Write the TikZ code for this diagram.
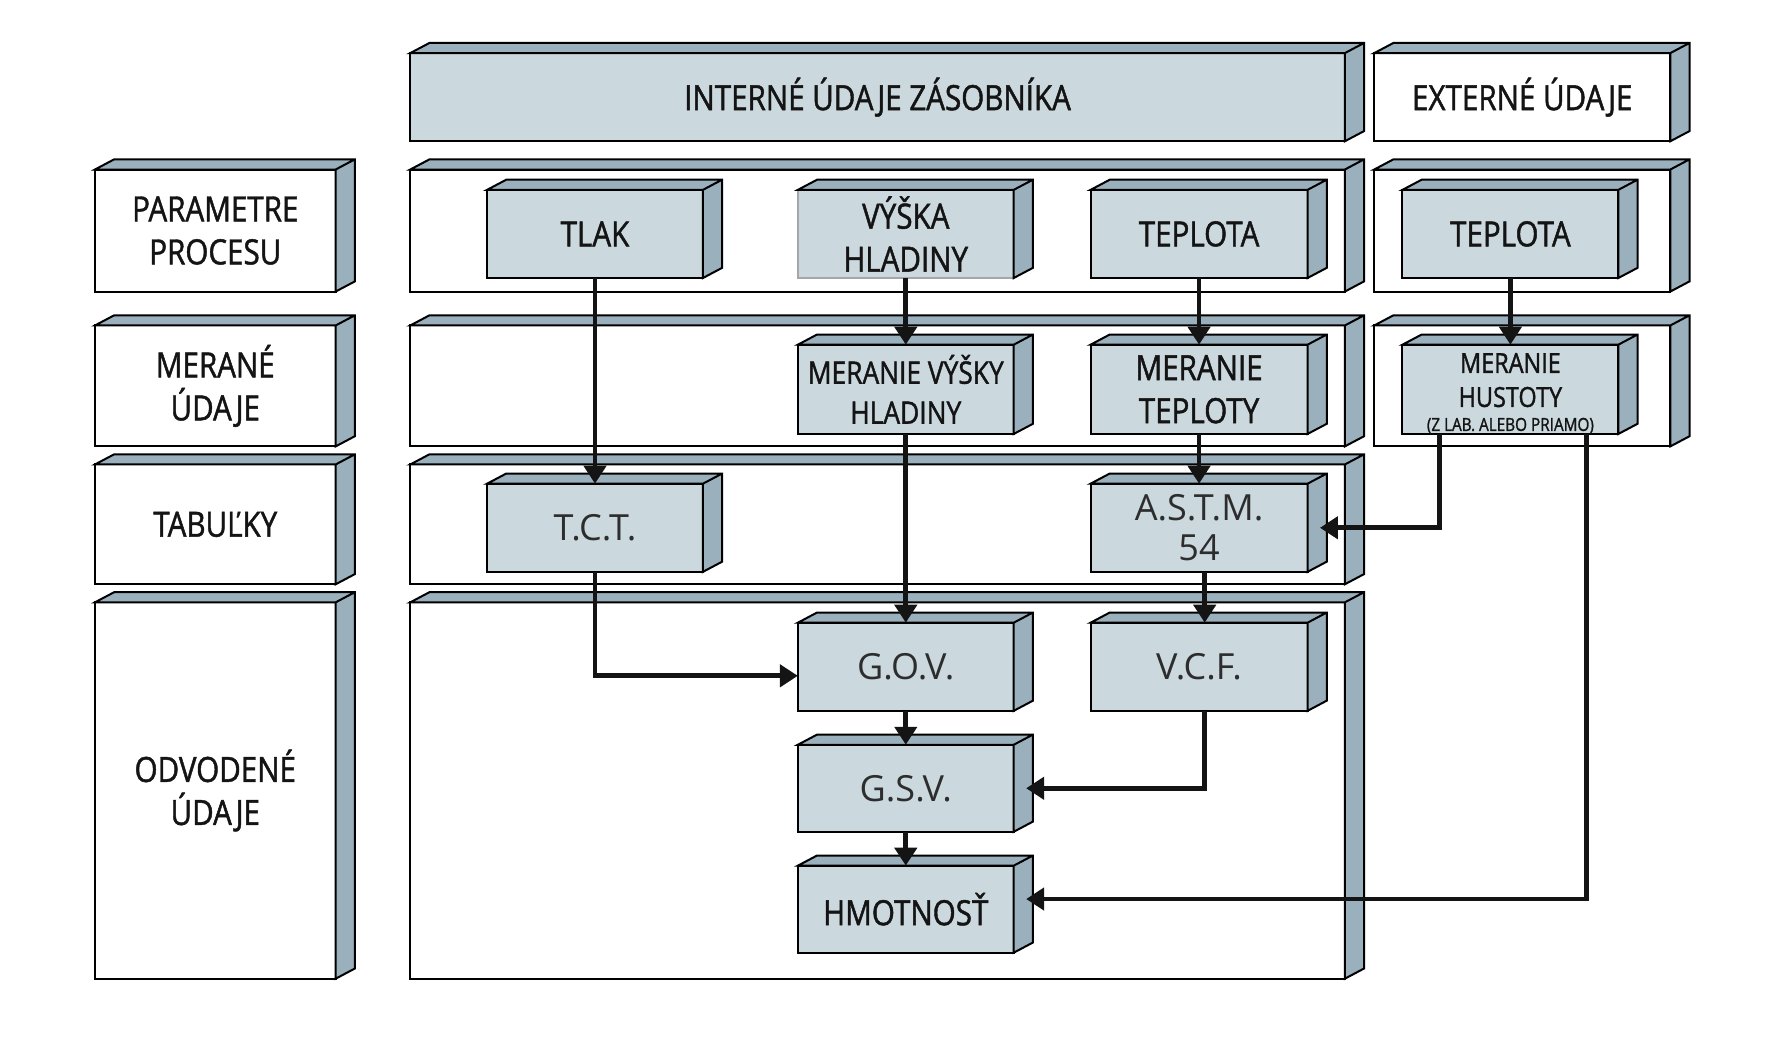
\documentclass[tikz,border=0pt]{standalone}
\usepackage{fontspec}
\setmainfont{Open Sans}
\newfontfamily\condfont[FakeStretch=0.85,FakeBold=1.3]{Open Sans}
\usetikzlibrary{calc,arrows.meta}
\definecolor{boxfill}{RGB}{203,217,223}
\definecolor{facefill}{RGB}{155,176,189}
\definecolor{txtdark}{RGB}{20,20,20}
\definecolor{txtlight}{RGB}{45,45,45}
\newcommand\mkbox[7]{\node[#6, minimum width={(#4-#2)*0.565pt}, minimum height={(#5-#3)*0.565pt}] (#1) at (#2,#3) {#7};}
\newcommand\mkfaces[1]{\draw[faceline] (#1.north west) -- ++(17,-9) -- ($(#1.north east)+(17,-9)$) -- ($(#1.south east)+(17,-9)$) -- (#1.south east) -- (#1.north east) -- cycle (#1.north east) -- ++(17,-9);}
\begin{document}
\begin{tikzpicture}[x=0.565pt,y=-0.565pt,
  basebox/.style={draw=black, line width=1pt, inner sep=0pt, outer sep=0pt, anchor=north west, align=center, text=txtdark, font=\condfont\fontsize{17.4}{21.5}\selectfont},
  plainbox/.style={basebox, fill=white},
  graybox/.style={basebox, fill=boxfill},
  lightlbl/.style={font=\fontsize{18}{20}\selectfont, text=txtlight},
  faceline/.style={draw=black, line width=1pt, fill=facefill},
  arr/.style={draw=txtdark, line width=2.4pt, -{Triangle[length=9pt,width=11pt]}}
]
\useasboundingbox (0,0) rectangle (1568,919);
% containers
\mkbox{lab1}{84}{150}{297}{258}{plainbox}{PARAMETRE\\PROCESU}
\mkbox{lab2}{84}{288}{297}{395}{plainbox}{MERANÉ\\ÚDAJE}
\mkbox{lab3}{84}{411}{297}{517}{plainbox}{TABUĽKY}
\mkbox{lab4}{84}{533}{297}{866}{plainbox}{ODVODENÉ\\ÚDAJE}
\mkbox{hint}{363}{47}{1190}{125}{graybox}{INTERNÉ ÚDAJE ZÁSOBNÍKA}
\mkbox{hext}{1216}{47}{1478}{125}{plainbox}{EXTERNÉ ÚDAJE}
\mkbox{row1}{363}{150}{1190}{258}{plainbox}{}
\mkbox{ext1}{1216}{150}{1478}{258}{plainbox}{}
\mkbox{row2}{363}{288}{1190}{395}{plainbox}{}
\mkbox{ext2}{1216}{288}{1478}{395}{plainbox}{}
\mkbox{row3}{363}{411}{1190}{517}{plainbox}{}
\mkbox{row4}{363}{533}{1190}{866}{plainbox}{}
\foreach \n in {lab1,lab2,lab3,lab4,hint,hext,row1,ext1,row2,ext2,row3,row4} {\mkfaces{\n}}
% inner boxes
\mkbox{tlak}{431}{168}{622}{246}{graybox}{TLAK}
\mkbox{vys}{706}{168}{897}{246}{graybox,draw=black!35}{VÝŠKA\\HLADINY}
\mkbox{tep}{965}{168}{1157}{246}{graybox}{TEPLOTA}
\mkbox{etep}{1241}{168}{1432}{246}{graybox}{TEPLOTA}
\mkbox{mvys}{706}{305}{897}{384}{graybox,font=\condfont\fontsize{15.5}{20}\selectfont}{MERANIE VÝŠKY\\HLADINY}
\mkbox{mtep}{965}{305}{1157}{384}{graybox}{MERANIE\\TEPLOTY}
\mkbox{mhus}{1241}{305}{1432}{384}{graybox,font=\condfont\fontsize{13.8}{17}\selectfont}{\rule{0pt}{14pt}MERANIE\\HUSTOTY\\[-5pt]{\fontsize{9}{10}\selectfont (Z LAB. ALEBO PRIAMO)}}
\mkbox{tct}{431}{428}{622}{506}{graybox,lightlbl}{T.C.T.}
\mkbox{astm}{965}{428}{1157}{506}{graybox,lightlbl}{A.S.T.M.\\54}
\mkbox{gov}{706}{551}{897}{629}{graybox,lightlbl}{G.O.V.}
\mkbox{vcf}{965}{551}{1157}{629}{graybox,lightlbl}{V.C.F.}
\mkbox{gsv}{706}{659}{897}{736}{graybox,lightlbl}{G.S.V.}
\mkbox{hmot}{706}{766}{897}{843}{graybox}{HMOTNOSŤ}
\foreach \n in {tlak,vys,tep,etep,mvys,mtep,mhus,tct,astm,gov,vcf,gsv,hmot} {\mkfaces{\n}}
% connectors
\draw[arr] (tlak.south) -- (tct.north);
\draw[arr] (vys.south) -- (mvys.north);
\draw[arr] (tep.south) -- (mtep.north);
\draw[arr] (etep.south) -- (mhus.north);
\draw[arr] (mvys.south) -- (gov.north);
\draw[arr] (mtep.south) -- (astm.north);
\draw[arr] ($(mhus.south west)!0.17!(mhus.south east)$) |- ($(astm.east)+(11,0)$);
\draw[arr] ($(astm.south)+(5,0)$) -- ($(vcf.north)+(5,0)$);
\draw[arr] (tct.south) |- ($(gov.west)+(0,8)$);
\draw[arr] (gov.south) -- (gsv.north);
\draw[arr] ($(vcf.south)+(5,0)$) |- ($(gsv.east)+(11,0)$);
\draw[arr] (gsv.south) -- (hmot.north);
\draw[arr] ($(mhus.south west)!0.853!(mhus.south east)$) |- ($(hmot.east)+(11,-9)$);
\end{tikzpicture}
\end{document}
